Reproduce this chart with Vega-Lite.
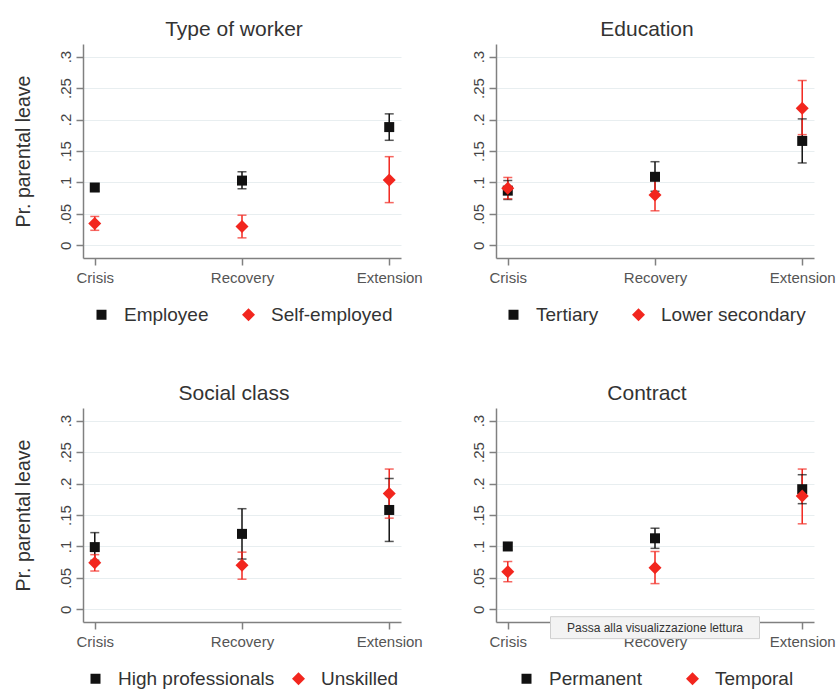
{
  "$schema": "https://vega.github.io/schema/vega-lite/v6.json",
  "padding": {"left": 13, "top": 19, "right": 0, "bottom": 0},
  "background": "white",
  "datasets": {
    "est": [
      {"panel": "Type of worker", "group": "Employee", "period": "Crisis", "est": 0.092, "lo": 0.086, "hi": 0.098},
      {"panel": "Type of worker", "group": "Employee", "period": "Recovery", "est": 0.103, "lo": 0.090, "hi": 0.117},
      {"panel": "Type of worker", "group": "Employee", "period": "Extension", "est": 0.188, "lo": 0.167, "hi": 0.209},
      {"panel": "Type of worker", "group": "Self-employed", "period": "Crisis", "est": 0.035, "lo": 0.024, "hi": 0.046},
      {"panel": "Type of worker", "group": "Self-employed", "period": "Recovery", "est": 0.030, "lo": 0.012, "hi": 0.048},
      {"panel": "Type of worker", "group": "Self-employed", "period": "Extension", "est": 0.104, "lo": 0.068, "hi": 0.141},
      {"panel": "Education", "group": "Tertiary", "period": "Crisis", "est": 0.087, "lo": 0.073, "hi": 0.103},
      {"panel": "Education", "group": "Tertiary", "period": "Recovery", "est": 0.109, "lo": 0.086, "hi": 0.133},
      {"panel": "Education", "group": "Tertiary", "period": "Extension", "est": 0.166, "lo": 0.131, "hi": 0.201},
      {"panel": "Education", "group": "Lower secondary", "period": "Crisis", "est": 0.091, "lo": 0.074, "hi": 0.108},
      {"panel": "Education", "group": "Lower secondary", "period": "Recovery", "est": 0.080, "lo": 0.055, "hi": 0.105},
      {"panel": "Education", "group": "Lower secondary", "period": "Extension", "est": 0.218, "lo": 0.176, "hi": 0.262},
      {"panel": "Social class", "group": "High professionals", "period": "Crisis", "est": 0.099, "lo": 0.078, "hi": 0.122},
      {"panel": "Social class", "group": "High professionals", "period": "Recovery", "est": 0.120, "lo": 0.080, "hi": 0.160},
      {"panel": "Social class", "group": "High professionals", "period": "Extension", "est": 0.158, "lo": 0.108, "hi": 0.208},
      {"panel": "Social class", "group": "Unskilled", "period": "Crisis", "est": 0.074, "lo": 0.061, "hi": 0.087},
      {"panel": "Social class", "group": "Unskilled", "period": "Recovery", "est": 0.070, "lo": 0.048, "hi": 0.091},
      {"panel": "Social class", "group": "Unskilled", "period": "Extension", "est": 0.184, "lo": 0.145, "hi": 0.223},
      {"panel": "Contract", "group": "Permanent", "period": "Crisis", "est": 0.100, "lo": 0.094, "hi": 0.106},
      {"panel": "Contract", "group": "Permanent", "period": "Recovery", "est": 0.113, "lo": 0.097, "hi": 0.129},
      {"panel": "Contract", "group": "Permanent", "period": "Extension", "est": 0.191, "lo": 0.168, "hi": 0.214},
      {"panel": "Contract", "group": "Temporal", "period": "Crisis", "est": 0.060, "lo": 0.044, "hi": 0.076},
      {"panel": "Contract", "group": "Temporal", "period": "Recovery", "est": 0.066, "lo": 0.041, "hi": 0.092},
      {"panel": "Contract", "group": "Temporal", "period": "Extension", "est": 0.180, "lo": 0.136, "hi": 0.223}
    ],
    "note": [
      {"period": "Recovery", "y": -0.029, "text": "Passa alla visualizzazione lettura"}
    ]
  },
  "config": {
    "font": "Liberation Sans",
    "view": {"stroke": null},
    "title": {"fontSize": 21, "fontWeight": "normal", "color": "#333333", "offset": 4, "anchor": "middle", "frame": "group", "dx": -8},
    "axis": {
      "domainColor": "#808080", "domainWidth": 1.5,
      "tickColor": "#808080", "tickWidth": 1.5, "tickSize": 7,
      "labelFontSize": 15, "labelColor": "#444444",
      "titleFontSize": 19.5, "titleFontWeight": "normal", "titleColor": "#333333",
      "gridColor": "#e8eef0", "gridWidth": 1
    },
    "axisX": {"grid": false, "labelAngle": 0, "labelPadding": 5, "labelColor": "#555555"},
    "axisY": {"labelAngle": -90, "labelAlign": "center", "labelBaseline": "bottom", "labelPadding": 3, "titlePadding": 25, "labelOverlap": false},
    "legend": {
      "layout": {"bottom": {"anchor": "middle"}},
      "labelFontSize": 19, "labelColor": "#333333", "symbolSize": 100, "symbolStrokeWidth": 0, "symbolOpacity": 1,
      "labelOffset": 13, "offset": 20, "orient": "bottom", "direction": "horizontal"
    }
  },
  "columns": 2,
  "bounds": "flush",
  "spacing": {"row": 150, "column": 95},
  "resolve": {"scale": {"color": "independent", "shape": "independent"}, "legend": {"color": "independent", "shape": "independent"}},
  "concat": [
    {
      "title": "Type of worker",
      "width": 318, "height": 214,
      "data": {"name": "est"},
      "transform": [{"filter": "datum.panel === 'Type of worker'"}],
      "encoding": {
        "x": {"field": "period", "type": "ordinal", "title": null, "scale": {"type": "point", "padding": 0.08, "domain": ["Crisis", "Recovery", "Extension"]}},
        "color": {"field": "group", "type": "nominal", "scale": {"domain": ["Employee", "Self-employed"], "range": ["#111111", "#f2261e"]}, "legend": {"title": null, "columnPadding": 30}}
      },
      "layer": [
        {"mark": {"type": "rule", "strokeWidth": 1.5}, "encoding": {"y": {"field": "lo", "type": "quantitative", "title": "Pr. parental leave", "scale": {"domain": [-0.02, 0.32], "nice": false, "zero": false}, "axis": {"values": [0, 0.05, 0.1, 0.15, 0.2, 0.25, 0.3], "labelOverlap": false, "labelExpr": "datum.value == 0 ? '0' : replace(format(datum.value, '.2~f'), '0.', '.')"}}, "y2": {"field": "hi"}}},
        {"mark": {"type": "tick", "size": 9, "thickness": 1.5}, "encoding": {"y": {"field": "lo", "type": "quantitative", "title": "Pr. parental leave", "axis": {"values": [0, 0.05, 0.1, 0.15, 0.2, 0.25, 0.3], "labelOverlap": false, "labelExpr": "datum.value == 0 ? '0' : replace(format(datum.value, '.2~f'), '0.', '.')"}}}},
        {"mark": {"type": "tick", "size": 9, "thickness": 1.5}, "encoding": {"y": {"field": "hi", "type": "quantitative", "title": "Pr. parental leave", "axis": {"values": [0, 0.05, 0.1, 0.15, 0.2, 0.25, 0.3], "labelOverlap": false, "labelExpr": "datum.value == 0 ? '0' : replace(format(datum.value, '.2~f'), '0.', '.')"}}}},
        {"mark": {"type": "point", "filled": true, "size": 100, "opacity": 1}, "encoding": {"y": {"field": "est", "type": "quantitative", "title": "Pr. parental leave", "axis": {"values": [0, 0.05, 0.1, 0.15, 0.2, 0.25, 0.3], "labelOverlap": false, "labelExpr": "datum.value == 0 ? '0' : replace(format(datum.value, '.2~f'), '0.', '.')"}}, "shape": {"field": "group", "type": "nominal", "scale": {"domain": ["Employee", "Self-employed"], "range": ["square", "M-1.3,0L0,-1.3L1.3,0L0,1.3Z"]}, "legend": {"title": null, "columnPadding": 30}}}}
      ]
    },
    {
      "title": "Education",
      "width": 318, "height": 214,
      "data": {"name": "est"},
      "transform": [{"filter": "datum.panel === 'Education'"}],
      "encoding": {
        "x": {"field": "period", "type": "ordinal", "title": null, "scale": {"type": "point", "padding": 0.08, "domain": ["Crisis", "Recovery", "Extension"]}},
        "color": {"field": "group", "type": "nominal", "scale": {"domain": ["Tertiary", "Lower secondary"], "range": ["#111111", "#f2261e"]}, "legend": {"title": null, "columnPadding": 30}}
      },
      "layer": [
        {"mark": {"type": "rule", "strokeWidth": 1.5}, "encoding": {"y": {"field": "lo", "type": "quantitative", "title": null, "scale": {"domain": [-0.02, 0.32], "nice": false, "zero": false}, "axis": {"values": [0, 0.05, 0.1, 0.15, 0.2, 0.25, 0.3], "labelOverlap": false, "labelExpr": "datum.value == 0 ? '0' : replace(format(datum.value, '.2~f'), '0.', '.')"}}, "y2": {"field": "hi"}}},
        {"mark": {"type": "tick", "size": 9, "thickness": 1.5}, "encoding": {"y": {"field": "lo", "type": "quantitative", "title": null, "axis": {"values": [0, 0.05, 0.1, 0.15, 0.2, 0.25, 0.3], "labelOverlap": false, "labelExpr": "datum.value == 0 ? '0' : replace(format(datum.value, '.2~f'), '0.', '.')"}}}},
        {"mark": {"type": "tick", "size": 9, "thickness": 1.5}, "encoding": {"y": {"field": "hi", "type": "quantitative", "title": null, "axis": {"values": [0, 0.05, 0.1, 0.15, 0.2, 0.25, 0.3], "labelOverlap": false, "labelExpr": "datum.value == 0 ? '0' : replace(format(datum.value, '.2~f'), '0.', '.')"}}}},
        {"mark": {"type": "point", "filled": true, "size": 100, "opacity": 1}, "encoding": {"y": {"field": "est", "type": "quantitative", "title": null, "axis": {"values": [0, 0.05, 0.1, 0.15, 0.2, 0.25, 0.3], "labelOverlap": false, "labelExpr": "datum.value == 0 ? '0' : replace(format(datum.value, '.2~f'), '0.', '.')"}}, "shape": {"field": "group", "type": "nominal", "scale": {"domain": ["Tertiary", "Lower secondary"], "range": ["square", "M-1.3,0L0,-1.3L1.3,0L0,1.3Z"]}, "legend": {"title": null, "columnPadding": 30}}}}
      ]
    },
    {
      "title": "Social class",
      "width": 318, "height": 214,
      "data": {"name": "est"},
      "transform": [{"filter": "datum.panel === 'Social class'"}],
      "encoding": {
        "x": {"field": "period", "type": "ordinal", "title": null, "scale": {"type": "point", "padding": 0.08, "domain": ["Crisis", "Recovery", "Extension"]}},
        "color": {"field": "group", "type": "nominal", "scale": {"domain": ["High professionals", "Unskilled"], "range": ["#111111", "#f2261e"]}, "legend": {"title": null, "columnPadding": 14}}
      },
      "layer": [
        {"mark": {"type": "rule", "strokeWidth": 1.5}, "encoding": {"y": {"field": "lo", "type": "quantitative", "title": "Pr. parental leave", "scale": {"domain": [-0.02, 0.32], "nice": false, "zero": false}, "axis": {"values": [0, 0.05, 0.1, 0.15, 0.2, 0.25, 0.3], "labelOverlap": false, "labelExpr": "datum.value == 0 ? '0' : replace(format(datum.value, '.2~f'), '0.', '.')"}}, "y2": {"field": "hi"}}},
        {"mark": {"type": "tick", "size": 9, "thickness": 1.5}, "encoding": {"y": {"field": "lo", "type": "quantitative", "title": "Pr. parental leave", "axis": {"values": [0, 0.05, 0.1, 0.15, 0.2, 0.25, 0.3], "labelOverlap": false, "labelExpr": "datum.value == 0 ? '0' : replace(format(datum.value, '.2~f'), '0.', '.')"}}}},
        {"mark": {"type": "tick", "size": 9, "thickness": 1.5}, "encoding": {"y": {"field": "hi", "type": "quantitative", "title": "Pr. parental leave", "axis": {"values": [0, 0.05, 0.1, 0.15, 0.2, 0.25, 0.3], "labelOverlap": false, "labelExpr": "datum.value == 0 ? '0' : replace(format(datum.value, '.2~f'), '0.', '.')"}}}},
        {"mark": {"type": "point", "filled": true, "size": 100, "opacity": 1}, "encoding": {"y": {"field": "est", "type": "quantitative", "title": "Pr. parental leave", "axis": {"values": [0, 0.05, 0.1, 0.15, 0.2, 0.25, 0.3], "labelOverlap": false, "labelExpr": "datum.value == 0 ? '0' : replace(format(datum.value, '.2~f'), '0.', '.')"}}, "shape": {"field": "group", "type": "nominal", "scale": {"domain": ["High professionals", "Unskilled"], "range": ["square", "M-1.3,0L0,-1.3L1.3,0L0,1.3Z"]}, "legend": {"title": null, "columnPadding": 14}}}}
      ]
    },
    {
      "title": "Contract",
      "width": 318, "height": 214,
      "layer": [
        {
          "data": {"name": "est"},
          "transform": [{"filter": "datum.panel === 'Contract'"}],
          "encoding": {
            "x": {"field": "period", "type": "ordinal", "title": null, "scale": {"type": "point", "padding": 0.08, "domain": ["Crisis", "Recovery", "Extension"]}, "axis": {"zindex": 0}},
            "color": {"field": "group", "type": "nominal", "scale": {"domain": ["Permanent", "Temporal"], "range": ["#111111", "#f2261e"]}, "legend": {"title": null, "columnPadding": 41}}
          },
          "layer": [
            {"mark": {"type": "rule", "strokeWidth": 1.5}, "encoding": {"y": {"field": "lo", "type": "quantitative", "title": null, "scale": {"domain": [-0.02, 0.32], "nice": false, "zero": false}, "axis": {"values": [0, 0.05, 0.1, 0.15, 0.2, 0.25, 0.3], "labelOverlap": false, "labelExpr": "datum.value == 0 ? '0' : replace(format(datum.value, '.2~f'), '0.', '.')"}}, "y2": {"field": "hi"}}},
            {"mark": {"type": "tick", "size": 9, "thickness": 1.5}, "encoding": {"y": {"field": "lo", "type": "quantitative", "title": null, "axis": {"values": [0, 0.05, 0.1, 0.15, 0.2, 0.25, 0.3], "labelOverlap": false, "labelExpr": "datum.value == 0 ? '0' : replace(format(datum.value, '.2~f'), '0.', '.')"}}}},
            {"mark": {"type": "tick", "size": 9, "thickness": 1.5}, "encoding": {"y": {"field": "hi", "type": "quantitative", "title": null, "axis": {"values": [0, 0.05, 0.1, 0.15, 0.2, 0.25, 0.3], "labelOverlap": false, "labelExpr": "datum.value == 0 ? '0' : replace(format(datum.value, '.2~f'), '0.', '.')"}}}},
            {"mark": {"type": "point", "filled": true, "size": 100, "opacity": 1}, "encoding": {"y": {"field": "est", "type": "quantitative", "title": null, "axis": {"values": [0, 0.05, 0.1, 0.15, 0.2, 0.25, 0.3], "labelOverlap": false, "labelExpr": "datum.value == 0 ? '0' : replace(format(datum.value, '.2~f'), '0.', '.')"}}, "shape": {"field": "group", "type": "nominal", "scale": {"domain": ["Permanent", "Temporal"], "range": ["square", "M-1.3,0L0,-1.3L1.3,0L0,1.3Z"]}, "legend": {"title": null, "columnPadding": 41}}}}
          ]
        },
        {
          "data": {"name": "note"},
          "encoding": {
            "x": {"field": "period", "type": "ordinal", "title": null, "scale": {"type": "point", "padding": 0.08, "domain": ["Crisis", "Recovery", "Extension"]}, "axis": {"zindex": 0}},
            "y": {"field": "y", "type": "quantitative", "title": null, "axis": {"values": [0, 0.05, 0.1, 0.15, 0.2, 0.25, 0.3], "labelOverlap": false, "labelExpr": "datum.value == 0 ? '0' : replace(format(datum.value, '.2~f'), '0.', '.')"}}
          },
          "layer": [
            {"mark": {"type": "point", "shape": "M-1,-0.105H1V0.105H-1Z", "size": 43681, "filled": true, "color": "#f3f3f3", "stroke": "#cfcfcf", "strokeWidth": 1, "opacity": 1}},
            {"mark": {"type": "text", "fontSize": 12, "color": "#333333"}, "encoding": {"text": {"field": "text"}}}
          ]
        }
      ]
    }
  ]
}
